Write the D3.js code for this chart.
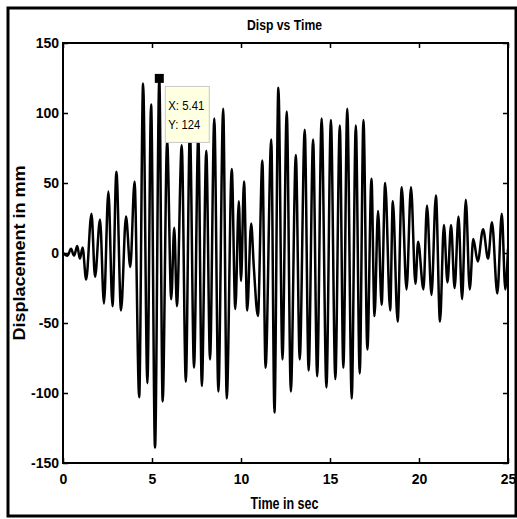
<!DOCTYPE html>
<html>
<head>
<meta charset="utf-8">
<script src="https://cdn.jsdelivr.net/npm/d3@7"></script>
<style>
  body { margin: 0; background: #fff; }
  text { font-family: "Liberation Sans", Arial, sans-serif; }
</style>
</head>
<body>
<div id="chart"></div>
<script>
// ##### data (peaks / troughs of the response) #####
var timeSec = [0, 0.25, 0.45, 0.62, 0.8, 0.95, 1.1, 1.3, 1.6, 1.8, 2.08, 2.3, 2.55, 2.78, 3.0, 3.26, 3.54, 3.78,
  4.02, 4.28, 4.5, 4.74, 4.95, 5.17, 5.41, 5.6, 5.85, 6.08, 6.25, 6.4, 6.67, 6.9, 7.13, 7.36, 7.6, 7.8,
  8.05, 8.26, 8.5, 8.73, 9.0, 9.2, 9.48, 9.68, 9.88, 10.0, 10.17, 10.35, 10.57, 10.72, 10.95, 11.2, 11.38,
  11.7, 11.88, 12.1, 12.33, 12.57, 12.8, 13.08, 13.3, 13.58, 13.8, 14.05, 14.28, 14.53, 14.8, 15.05, 15.3,
  15.55, 15.75, 15.97, 16.22, 16.45, 16.67, 16.88, 17.1, 17.33, 17.5, 17.7, 17.9, 18.1, 18.38, 18.53, 18.8,
  19.03, 19.3, 19.55, 19.8, 19.95, 20.25, 20.45, 20.7, 20.95, 21.18, 21.4, 21.6, 21.8, 22.0, 22.22, 22.42,
  22.63, 22.85, 23.05, 23.3, 23.6, 23.88, 24.1, 24.4, 24.65, 24.85, 25.0];
var dispMm = [0, -2, 3, -2, 5, -4, 4, -19, 28, -17, 24, -36, 44, -38, 58, -41, 26, -10,
  51, -103, 121, -93, 106, -139, 124, -106, 80, -33, 18, -38, 77, -92, 88, -82, 84, -95,
  73, -76, 96, -99, 103, -104, 60, -40, 37, -20, 51, -41, 21, -10, -45, 66, -82,
  81, -114, 118, -76, 101, -99, 70, -76, 88, -84, 81, -88, 96, -96, 95, -90,
  91, -82, 103, -104, 91, -86, 95, -69, 53, -45, 30, -37, 50, -41, 37, -49,
  47, -26, 47, -22, 8, -26, 34, -30, 41, -49, 20, -21, 20, -25, 26, -33,
  38, -26, 10, -6, 17, -4, 22, -29, 28, -26, 3];

var xTicks = [0, 5, 10, 15, 20, 25];
var yTicks = [-150, -100, -50, 0, 50, 100, 150];
var tipX = 5.41, tipY = 124;

// ##### area #####
var W = 517, H = 519;
var margin = {top: 43, right: 9, bottom: 56, left: 63};

var svg = d3.select("#chart").append("svg")
  .attr("width", W)
  .attr("height", H);

svg.append("rect").attr("width", W).attr("height", H).attr("fill", "#fff");

// figure frame
svg.append("rect")
  .attr("x", 8).attr("y", 8)
  .attr("width", 508).attr("height", 508)
  .attr("fill", "none").attr("stroke", "#000").attr("stroke-width", 3);

var x = d3.scaleLinear().domain([0, 25]).range([margin.left, W - margin.right]);
var y = d3.scaleLinear().domain([-150, 150]).range([H - margin.bottom, margin.top]);

svg.append("clipPath").attr("id", "plotclip")
  .append("rect")
  .attr("x", x(0)).attr("y", y(150))
  .attr("width", x(25) - x(0)).attr("height", y(-150) - y(150));

// plain hyphen minus like MATLAB
var plainFmt = function(d) { return String(d); };

// axes (MATLAB style: ticks inside, box all round)
svg.append("g")
  .attr("transform", "translate(0," + y(-150) + ")")
  .call(d3.axisBottom(x).tickValues(xTicks).tickSizeInner(-5).tickSizeOuter(0).tickPadding(11).tickFormat(plainFmt));
svg.append("g")
  .attr("transform", "translate(" + x(0) + ",0)")
  .call(d3.axisLeft(y).tickValues(yTicks).tickSizeInner(-5).tickSizeOuter(0).tickPadding(4).tickFormat(plainFmt));
svg.append("g")
  .attr("transform", "translate(0," + y(150) + ")")
  .call(d3.axisTop(x).tickValues(xTicks).tickSizeInner(-5).tickSizeOuter(0).tickFormat(""));
svg.append("g")
  .attr("transform", "translate(" + x(25) + ",0)")
  .call(d3.axisRight(y).tickValues(yTicks).tickSizeInner(-5).tickSizeOuter(0).tickFormat(""));

svg.selectAll(".domain").remove();
svg.selectAll(".tick line").attr("stroke", "#000").attr("stroke-width", 1.5);
svg.selectAll(".tick text")
  .attr("fill", "#000")
  .style("font-size", "14px")
  .style("font-weight", "bold");

svg.append("rect")
  .attr("x", x(0)).attr("y", y(150))
  .attr("width", x(25) - x(0)).attr("height", y(-150) - y(150))
  .attr("fill", "none").attr("stroke", "#000").attr("stroke-width", 2);

// signal
var pts = timeSec.map(function(t, i) { return {t: t, v: dispMm[i]}; });
var line = d3.line()
  .curve(d3.curveMonotoneX)
  .x(function(d) { return x(d.t); })
  .y(function(d) { return y(d.v); });

svg.append("path")
  .datum(pts)
  .attr("clip-path", "url(#plotclip)")
  .attr("d", line)
  .attr("fill", "none")
  .attr("stroke", "#000")
  .attr("stroke-width", 2.5)
  .attr("stroke-linejoin", "round");

// titles
var midX = (x(0) + x(25)) / 2;
svg.append("text")
  .attr("x", midX - 1).attr("y", 30)
  .attr("text-anchor", "middle")
  .attr("textLength", 75).attr("lengthAdjust", "spacingAndGlyphs")
  .style("font-size", "15px").style("font-weight", "bold")
  .text("Disp vs Time");
svg.append("text")
  .attr("x", midX - 1).attr("y", 509)
  .attr("text-anchor", "middle")
  .attr("textLength", 68).attr("lengthAdjust", "spacingAndGlyphs")
  .style("font-size", "16px").style("font-weight", "bold")
  .text("Time in sec");
svg.append("text")
  .attr("transform", "translate(25," + ((y(150) + y(-150)) / 2) + ") rotate(-90)")
  .attr("text-anchor", "middle")
  .attr("textLength", 175).attr("lengthAdjust", "spacingAndGlyphs")
  .style("font-size", "16px").style("font-weight", "bold")
  .text("Displacement in mm");

// data tip
svg.append("rect")
  .attr("x", x(tipX) - 4.5).attr("y", y(tipY) - 5.5)
  .attr("width", 9).attr("height", 9)
  .attr("fill", "#000");
var tip = svg.append("g").attr("transform", "translate(" + (x(tipX) + 6) + "," + (y(tipY) + 7) + ")");
tip.append("rect")
  .attr("width", 44).attr("height", 56)
  .attr("fill", "#ffffe1").attr("stroke", "#c8c8c8").attr("stroke-width", 1);
tip.append("text")
  .attr("x", 3).attr("y", 24)
  .attr("textLength", 36).attr("lengthAdjust", "spacingAndGlyphs")
  .style("font-size", "13px")
  .text("X: " + tipX);
tip.append("text")
  .attr("x", 3).attr("y", 43)
  .attr("textLength", 32).attr("lengthAdjust", "spacingAndGlyphs")
  .style("font-size", "13px")
  .text("Y: " + tipY);
</script>
</body>
</html>
